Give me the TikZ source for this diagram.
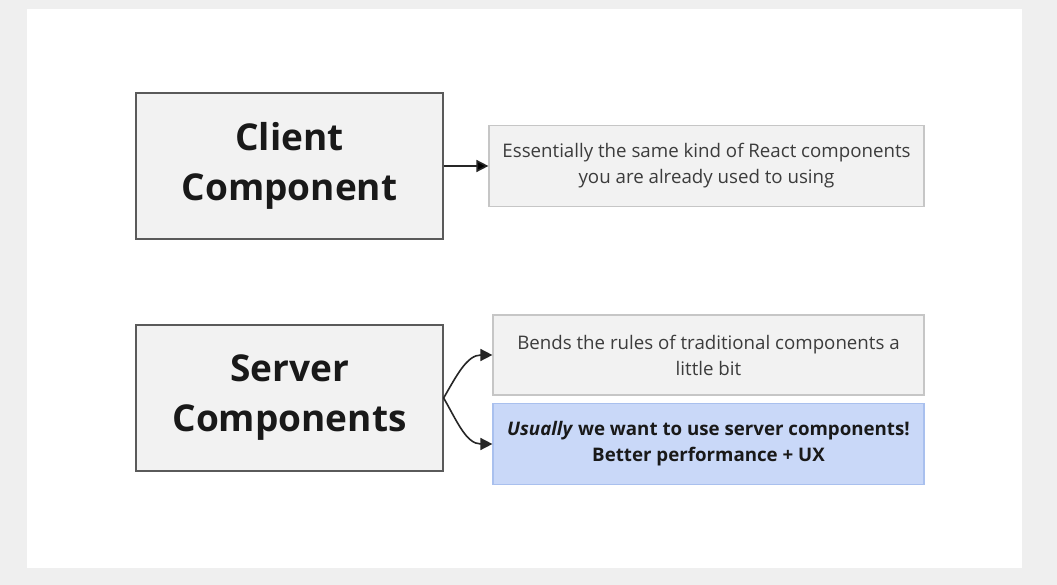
\documentclass[tikz,border=0pt]{standalone}
\usepackage{fontspec}
\setmainfont{Open Sans}
\usetikzlibrary{arrows.meta}
\definecolor{boxgray}{HTML}{F2F2F2}
\definecolor{edgegray}{HTML}{5A5A5A}
\definecolor{lightedge}{HTML}{C6C6C6}
\definecolor{noteblue}{HTML}{C9D8F8}
\definecolor{blueedge}{HTML}{A9C0EE}
\definecolor{textgray}{HTML}{3C3C3C}
\definecolor{canvas}{HTML}{EFEFEF}

\tikzset{
  kind/.style={rectangle, fill=boxgray, draw=edgegray, line width=1.3pt, minimum width=307pt, minimum height=146pt, align=center, font=\fontsize{37}{50}\selectfont\bfseries, text=black!90},
  note/.style={rectangle, fill=boxgray, draw=lightedge, line width=1.2pt, minimum height=81pt, align=center, font=\fontsize{18.7}{26}\selectfont, text=textgray},
  link/.style={-{Triangle[length=12pt,width=12pt]}, line width=1.6pt, draw=black!85}
}

\begin{document}
\begin{tikzpicture}[x=1pt, y=-1pt]
        % canvas and page
        \fill[canvas] (0,0) rectangle (1057,585);
        \fill[white] (27,9) rectangle (1022,568);
        \useasboundingbox (0,0) rectangle (1057,585);

        \node[kind] (client) at (289.5,166) {Client\\Component};
        \node[note, minimum width=435pt] (same) at (706.5,166) {Essentially the same kind of React components\\you are already used to using};

        \node[kind] (server) at (289.5,398) {Server\\Components};
        \node[note, minimum width=431pt, minimum height=80pt] (bends) at (708.5,355) {Bends the rules of traditional components a\\little bit};
        \node[note, minimum width=431pt, fill=noteblue, draw=blueedge, text=black!90, font=\fontsize{18.7}{26}\selectfont\bfseries] (usually) at (708.5,444) {\textit{Usually} we want to use server components!\\Better performance + UX};

        \path[link] (client) edge (same);
        \draw[link] (server.east) to[out=60,in=180] (bends.west);
        \draw[link] (server.east) to[out=-60,in=180] (usually.west);
        %\node at (557,93) {};
\end{tikzpicture}
\end{document}
